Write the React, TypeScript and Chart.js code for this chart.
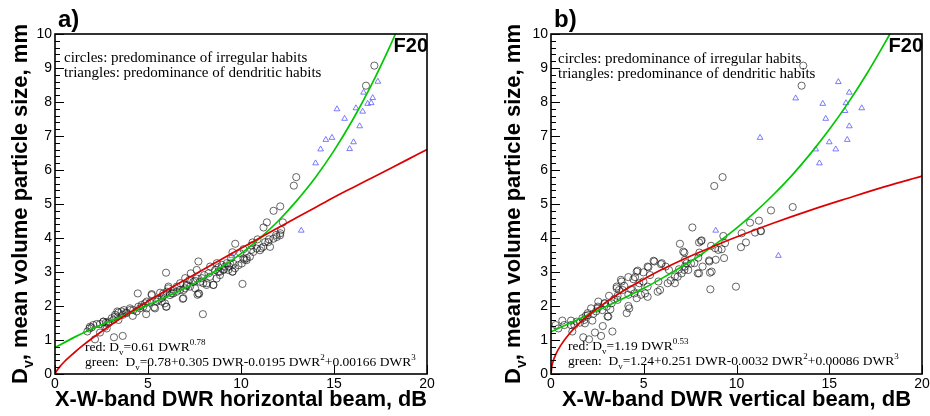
import React, { useEffect, useRef } from 'react';
import { Chart, registerables } from 'chart.js';

Chart.register(...registerables);

// ---------- data ----------
const xTickValues = [0, 5, 10, 15, 20];
const yTickValues = [0, 1, 2, 3, 4, 5, 6, 7, 8, 9, 10];

// Panel a) horizontal beam
const circlesA: number[][] = [
  [17.17, 9.07], [16.72, 8.48], [12.97, 5.79], [12.84, 5.54], [12.11, 4.93], [11.75, 4.8], [11.39, 4.46], [11.21, 4.31],
  [12.25, 4.46], [12.11, 4.14], [11.89, 4.09], [12.16, 4.24], [11.5, 3.96], [11.3, 3.88], [11.09, 3.7], [10.89, 3.96],
  [10.62, 3.87], [9.69, 3.83], [10.08, 2.65], [10.55, 3.65], [10.31, 3.41], [10.19, 3.36], [10.13, 3.67], [9.96, 3.55],
  [9.54, 3.58], [9.47, 3.41], [9.6, 3.24], [9.54, 3.01], [9.36, 3.16], [9.24, 3.26], [9.09, 3.08], [8.97, 3.21],
  [8.88, 3.01], [8.79, 3.14], [8.7, 3.26], [8.61, 3.06], [8.34, 3.16], [8.25, 2.96], [8.52, 2.62], [8.02, 2.91],
  [8.16, 2.67], [7.89, 2.82], [7.71, 3.31], [7.62, 3.06], [7.53, 2.74], [7.75, 2.36], [7.66, 2.33], [7.95, 1.76],
  [7.3, 2.96], [7.23, 2.77], [7.09, 2.59], [7.0, 2.82], [6.91, 2.47], [6.87, 2.21], [6.73, 2.67], [6.55, 2.57],
  [6.37, 2.47], [6.28, 2.37], [6.1, 2.57], [5.97, 2.98], [6.01, 2.42], [5.83, 2.3], [5.74, 2.13], [5.97, 1.98],
  [5.65, 2.39], [5.2, 2.35], [5.47, 2.13], [5.33, 1.96], [4.93, 2.13], [4.9, 1.76], [4.75, 1.98], [4.57, 1.93],
  [4.45, 2.37], [4.39, 1.84], [4.18, 1.71], [4.04, 1.88], [3.82, 1.81], [3.71, 1.88], [3.64, 1.74], [3.64, 1.12],
  [3.17, 1.08], [3.35, 1.84], [3.23, 1.74], [3.05, 1.64], [2.87, 1.54], [2.74, 1.51], [2.6, 1.54], [2.42, 1.47],
  [2.42, 1.22], [2.24, 1.47], [2.15, 1.02], [1.97, 1.37], [1.85, 1.34], [1.74, 1.25], [2.78, 1.34], [3.41, 1.59],
  [1.88, 1.39], [2.06, 1.44], [2.6, 1.54], [2.69, 1.39], [2.87, 1.49], [3.14, 1.59], [3.23, 1.69], [3.41, 1.81],
  [3.58, 1.84], [3.85, 1.79], [4.03, 1.93], [4.21, 1.88], [4.48, 1.98], [4.66, 2.03], [4.84, 2.08], [4.93, 1.93],
  [5.11, 2.1], [5.2, 2.32], [5.38, 1.93], [5.56, 2.18], [5.73, 2.23], [5.82, 2.37], [5.91, 2.08], [6.0, 1.98],
  [6.09, 2.52], [6.18, 2.32], [6.36, 2.37], [6.54, 2.42], [6.72, 2.47], [6.9, 2.23], [6.99, 2.52], [7.08, 2.62],
  [7.26, 2.57], [7.44, 2.71], [7.53, 2.52], [7.62, 2.81], [7.71, 2.37], [7.8, 2.71], [7.97, 2.67], [8.15, 2.62],
  [8.33, 2.86], [8.51, 2.62], [8.69, 2.81], [8.78, 3.01], [8.87, 2.91], [9.05, 3.06], [9.14, 3.16], [9.32, 3.06],
  [9.41, 3.25], [9.55, 3.01], [9.68, 3.11], [9.86, 3.2], [10.04, 3.25], [10.13, 3.4], [10.3, 3.35], [10.48, 3.45],
  [10.57, 3.78], [10.66, 3.59], [10.84, 3.69], [11.02, 3.64], [11.2, 3.74], [11.47, 3.88], [11.56, 3.74], [11.74, 3.98],
  [11.92, 4.03], [12.1, 4.08],
];
const trianglesA: number[][] = [
  [13.24, 4.22], [14.01, 6.2], [14.28, 6.61], [14.56, 6.89], [14.89, 6.95], [15.16, 7.79], [15.57, 7.51], [15.84, 6.62],
  [16.05, 6.82], [16.18, 7.82], [16.38, 7.29], [16.54, 7.72], [16.59, 8.28], [16.81, 7.95], [17.0, 7.97], [17.08, 8.12],
  [17.36, 8.6], [9.5, 3.47],
];
const redXA = [0, 0.1, 0.25, 0.5, 1, 1.5, 2, 3, 4, 5, 6, 7, 8, 9, 10, 11, 12, 13, 14, 15, 16, 17, 18, 19, 20];
const redYA = [0, 0.1, 0.21, 0.36, 0.61, 0.84, 1.05, 1.44, 1.8, 2.14, 2.46, 2.77, 3.08, 3.39, 3.7, 4.0, 4.3, 4.6, 4.9, 5.2, 5.48, 5.76, 6.04, 6.32, 6.6];
const greenXA = [0, 1, 2, 3, 4, 5, 6, 7, 8, 9, 10, 11, 12, 13, 14, 15, 16, 17, 18, 18.3];
const greenYA = [0.78, 1.07, 1.33, 1.56, 1.79, 2.03, 2.27, 2.53, 2.82, 3.16, 3.54, 3.99, 4.5, 5.1, 5.78, 6.57, 7.47, 8.49, 9.63, 10.0];

// Panel b) vertical beam
const circlesB: number[][] = [
  [13.6, 9.07], [13.51, 8.48], [9.25, 5.79], [8.8, 5.53], [11.86, 4.81], [13.03, 4.91], [11.21, 4.51], [11.3, 4.21],
  [11.0, 4.16], [10.51, 3.87], [10.24, 3.73], [10.28, 4.14], [9.97, 2.57], [7.62, 4.31], [8.12, 3.93], [7.98, 3.87],
  [6.95, 3.83], [7.13, 3.6], [9.29, 4.06], [9.38, 3.85], [9.2, 3.67], [9.33, 3.41], [8.63, 3.77], [8.85, 3.7],
  [9.02, 3.65], [8.54, 3.31], [8.66, 3.01], [8.57, 2.98], [8.59, 2.49], [8.17, 3.16], [7.98, 2.96], [7.94, 3.42],
  [7.73, 3.26], [7.31, 3.26], [7.4, 3.06], [7.22, 3.16], [7.04, 2.96], [6.9, 3.08], [6.68, 2.67], [6.68, 2.87],
  [6.45, 2.75], [6.36, 3.06], [6.18, 3.16], [5.97, 3.26], [5.88, 2.47], [5.79, 2.72], [5.57, 3.31], [5.34, 2.91],
  [5.21, 3.16], [5.21, 2.57], [5.07, 2.37], [4.98, 2.72], [4.85, 2.33], [4.71, 2.57], [4.62, 3.01], [4.62, 2.23],
  [4.44, 2.79], [4.31, 2.49], [4.17, 2.33], [4.17, 2.0], [4.08, 1.79], [3.95, 2.59], [3.81, 2.72], [3.67, 2.47],
  [3.59, 2.3], [3.54, 2.57], [3.4, 2.2], [3.27, 2.08], [3.13, 2.3], [3.09, 1.69], [3.0, 1.98], [2.91, 2.08],
  [2.77, 1.88], [2.7, 1.12], [2.55, 2.13], [2.52, 1.98], [2.43, 1.84], [2.37, 1.22], [2.28, 1.77], [2.23, 1.57],
  [2.16, 1.93], [2.05, 1.02], [1.98, 1.79], [1.87, 1.71], [1.83, 1.49], [1.74, 1.08], [1.69, 1.64], [1.56, 1.51],
  [1.38, 1.54], [1.26, 1.44], [1.15, 1.25], [1.08, 1.57], [0.72, 1.44], [0.61, 1.57], [0.4, 1.34], [0.25, 1.44],
  [3.31, 1.25], [7.22, 3.36], [8.88, 3.36], [8.09, 3.91], [8.52, 3.34], [10.73, 4.45], [11.32, 4.2], [5.53, 3.33],
  [5.93, 3.23], [5.25, 3.14], [4.98, 2.99], [4.67, 3.04], [4.53, 2.85], [4.17, 2.85], [3.77, 2.77], [3.54, 2.52],
  [1.08, 1.44], [1.8, 1.59], [2.79, 1.41], [1.98, 1.73], [2.52, 1.93], [2.88, 2.08], [3.05, 1.69], [3.2, 1.9],
  [3.59, 2.18], [3.86, 2.47], [4.22, 1.93], [4.49, 2.37], [4.76, 2.67], [5.21, 2.27], [5.75, 2.42], [6.29, 2.67],
  [6.83, 2.86], [7.19, 3.06], [7.55, 3.25], [7.91, 2.96], [8.0, 3.57], [7.19, 3.57],
];
const trianglesB: number[][] = [
  [15.49, 8.59], [13.19, 8.11], [14.65, 7.95], [16.08, 8.28], [15.9, 7.97], [15.85, 7.74], [16.75, 7.82], [14.81, 7.51],
  [16.08, 7.29], [11.27, 6.95], [15.0, 6.82], [15.97, 6.89], [14.27, 6.61], [15.35, 6.61], [14.47, 6.2], [8.88, 4.22],
  [12.26, 3.48],
];
const redXB = [0, 0.05, 0.1, 0.25, 0.5, 1, 1.5, 2, 3, 4, 5, 6, 7, 8, 9, 10, 12, 14, 16, 18, 20];
const redYB = [0, 0.24, 0.35, 0.57, 0.82, 1.19, 1.48, 1.72, 2.13, 2.48, 2.79, 3.08, 3.34, 3.58, 3.81, 4.03, 4.44, 4.82, 5.17, 5.51, 5.82];
const greenXB = [0, 1, 2, 3, 4, 5, 6, 7, 8, 9, 10, 11, 12, 13, 14, 15, 16, 17, 18, 18.27];
const greenYB = [1.24, 1.49, 1.74, 1.99, 2.25, 2.52, 2.82, 3.14, 3.48, 3.87, 4.29, 4.76, 5.28, 5.85, 6.49, 7.19, 7.96, 8.81, 9.74, 10.0];

// ---------- text ----------
type Seg = { t: string; m?: 'sub' | 'sup' };

const SANS = "'Liberation Sans', Arial, sans-serif";
const SERIF = "'Liberation Serif', 'Times New Roman', serif";

const noteLines = ['circles: predominance of irregular habits', 'triangles: predominance of dendritic habits'];
const eqA: Seg[][] = [
  [{ t: 'red: D' }, { t: 'v', m: 'sub' }, { t: '=0.61 DWR' }, { t: '0.78', m: 'sup' }],
  [{ t: 'green:  D' }, { t: 'v', m: 'sub' }, { t: '=0.78+0.305 DWR-0.0195 DWR' }, { t: '2', m: 'sup' }, { t: '+0.00166 DWR' }, { t: '3', m: 'sup' }],
];
const eqB: Seg[][] = [
  [{ t: 'red: D' }, { t: 'v', m: 'sub' }, { t: '=1.19 DWR' }, { t: '0.53', m: 'sup' }],
  [{ t: 'green:  D' }, { t: 'v', m: 'sub' }, { t: '=1.24+0.251 DWR-0.0032 DWR' }, { t: '2', m: 'sup' }, { t: '+0.00086 DWR' }, { t: '3', m: 'sup' }],
];
const yTitle: Seg[] = [{ t: 'D' }, { t: 'v', m: 'sub' }, { t: ', mean volume particle size, mm' }];

function drawRich(ctx: CanvasRenderingContext2D, segs: Seg[], x: number, y: number, size: number, family: string, weight: string, measureOnly = false) {
  let cx = x;
  for (const s of segs) {
    const sz = s.m ? Math.round(size * 0.65) : size;
    ctx.font = `${weight} ${sz}px ${family}`;
    const dy = s.m === 'sub' ? size * 0.28 : s.m === 'sup' ? -size * 0.42 : 0;
    if (!measureOnly) ctx.fillText(s.t, cx, y + dy);
    cx += ctx.measureText(s.t).width;
  }
  return cx - x;
}

type PanelCfg = {
  offset: number;
  padLeft: number;
  padRight: number;
  label: string;
  xTitle: string;
  circles: number[][];
  triangles: number[][];
  redX: number[];
  redY: number[];
  greenX: number[];
  greenY: number[];
  eq: Seg[][];
  noteDx: number;
  noteY: number;
  eqDx: number;
  eqY: number;
  yTitleDx: number;
};

const panels: PanelCfg[] = [
  {
    offset: 0, padLeft: 0, padRight: 38, label: 'a)', xTitle: 'X-W-band DWR horizontal beam, dB',
    circles: circlesA, triangles: trianglesA, redX: redXA, redY: redYA, greenX: greenXA, greenY: greenYA,
    eq: eqA, noteDx: 9, noteY: 62, eqDx: 30, eqY: 351, yTitleDx: -28,
  },
  {
    offset: 465, padLeft: 31, padRight: 8, label: 'b)', xTitle: 'X-W-band DWR vertical beam, dB',
    circles: circlesB, triangles: trianglesB, redX: redXB, redY: redYB, greenX: greenXB, greenY: greenYB,
    eq: eqB, noteDx: 7, noteY: 63, eqDx: 17, eqY: 350, yTitleDx: -31,
  },
];

function decorPlugin(cfg: PanelCfg) {
  return {
    id: 'decor',
    afterDatasetsDraw(chart: any) {
      const ctx: CanvasRenderingContext2D = chart.ctx;
      const a = chart.chartArea;
      const ys = chart.scales.y;
      const xs = chart.scales.x;
      ctx.save();
      ctx.strokeStyle = '#000';
      // inward ticks
      ctx.lineWidth = 1;
      ctx.beginPath();
      for (let i = 0; i <= 50; i++) {
        const py = Math.round(ys.getPixelForValue(i * 0.2)) + 0.5;
        const len = i % 5 === 0 ? 9 : 5;
        ctx.moveTo(a.left, py);
        ctx.lineTo(a.left + len, py);
      }
      for (const v of xTickValues) {
        const px = Math.round(xs.getPixelForValue(v)) + 0.5;
        ctx.moveTo(px, a.bottom);
        ctx.lineTo(px, a.bottom - 9);
      }
      ctx.stroke();
      // frame
      ctx.lineWidth = 1.6;
      ctx.strokeRect(a.left, a.top, a.right - a.left, a.bottom - a.top);

      ctx.fillStyle = '#000';
      ctx.textBaseline = 'alphabetic';
      ctx.textAlign = 'left';
      // panel label
      ctx.font = `bold 24px ${SANS}`;
      ctx.fillText(cfg.label, a.left + 3, 27);
      // F20
      ctx.font = `bold 20px ${SANS}`;
      ctx.textAlign = 'right';
      ctx.fillText('F20', a.right + 1, 52);
      ctx.textAlign = 'left';
      // notes
      ctx.font = `15px ${SERIF}`;
      noteLines.forEach((t, i) => ctx.fillText(t, a.left + cfg.noteDx, cfg.noteY + i * 15));
      // equations
      cfg.eq.forEach((segs, i) => drawRich(ctx, segs, a.left + cfg.eqDx, cfg.eqY + i * 15, 13.5, SERIF, 'normal'));
      // y title
      const w = drawRich(ctx, yTitle, 0, 0, 22, SANS, 'bold', true);
      ctx.translate(a.left + cfg.yTitleDx, (a.top + a.bottom) / 2);
      ctx.rotate(-Math.PI / 2);
      drawRich(ctx, yTitle, -w / 2, 0, 22, SANS, 'bold');
      ctx.restore();
    },
  };
}

function Panel({ cfg }: { cfg: PanelCfg }) {
  const ref = useRef<HTMLCanvasElement>(null);
  useEffect(() => {
    const toPts = (arr: number[][]) => arr.map(([x, y]) => ({ x, y }));
    const zip = (xs: number[], ys: number[]) => xs.map((x, i) => ({ x, y: ys[i] }));
    const chart = new Chart(ref.current!, {
      type: 'scatter',
      data: {
        datasets: [
          {
            label: 'red fit',
            data: zip(cfg.redX, cfg.redY),
            showLine: true,
            borderColor: 'rgb(220,0,0)',
            borderWidth: 1.7,
            pointRadius: 0,
            cubicInterpolationMode: 'monotone',
            order: 0,
          } as any,
          {
            label: 'green fit',
            data: zip(cfg.greenX, cfg.greenY),
            showLine: true,
            borderColor: 'rgb(0,200,0)',
            borderWidth: 1.7,
            pointRadius: 0,
            cubicInterpolationMode: 'monotone',
            order: 0,
          } as any,
          {
            label: 'triangles',
            data: toPts(cfg.triangles),
            pointStyle: 'triangle',
            pointRadius: 3.3,
            pointBorderWidth: 0.8,
            borderColor: 'rgb(90,90,255)',
            backgroundColor: 'rgba(0,0,0,0)',
            order: 1,
          } as any,
          {
            label: 'circles',
            data: toPts(cfg.circles),
            pointStyle: 'circle',
            pointRadius: 3.6,
            pointBorderWidth: 0.8,
            borderColor: 'rgba(30,30,30,0.85)',
            backgroundColor: 'rgba(0,0,0,0)',
            order: 2,
          } as any,
        ],
      },
      options: {
        responsive: false,
        maintainAspectRatio: false,
        animation: false,
        events: [],
        layout: { padding: { left: cfg.padLeft, right: cfg.padRight, top: 34, bottom: 0 } },
        plugins: { legend: { display: false }, tooltip: { enabled: false } },
        scales: {
          x: {
            type: 'linear',
            min: 0,
            max: 20,
            grid: { display: false, drawTicks: false },
            border: { display: false },
            afterBuildTicks: (s: any) => { s.ticks = xTickValues.map((v) => ({ value: v })); },
            afterFit: (s: any) => { s.height = 42; s.paddingLeft = 0; s.paddingRight = 0; },
            ticks: { autoSkip: false, maxRotation: 0, padding: 2, color: '#000', font: { family: SANS, size: 14 } },
            title: {
              display: true,
              text: cfg.xTitle,
              color: '#000',
              font: { family: SANS, size: 22, weight: 'bold' },
              padding: { top: 0, bottom: 3 },
            },
          },
          y: {
            type: 'linear',
            min: 0,
            max: 10,
            grid: { display: false, drawTicks: false },
            border: { display: false },
            afterBuildTicks: (s: any) => { s.ticks = yTickValues.map((v) => ({ value: v })); },
            afterFit: (s: any) => { s.width = 55; s.paddingTop = 0; s.paddingBottom = 0; },
            ticks: { autoSkip: false, padding: 3, color: '#000', font: { family: SANS, size: 14 } },
          },
        },
      },
      plugins: [decorPlugin(cfg)],
    } as any);
    return () => chart.destroy();
  }, [cfg]);
  return (
    <canvas
      ref={ref}
      width={465}
      height={416}
      style={{ position: 'absolute', left: cfg.offset, top: 0, width: 465, height: 416 }}
    />
  );
}

export default function App() {
  return (
    <div style={{ position: 'fixed', left: 0, top: 0, width: 930, height: 416, background: '#fff', overflow: 'hidden' }}>
      {panels.map((p) => (
        <Panel key={p.label} cfg={p} />
      ))}
    </div>
  );
}
